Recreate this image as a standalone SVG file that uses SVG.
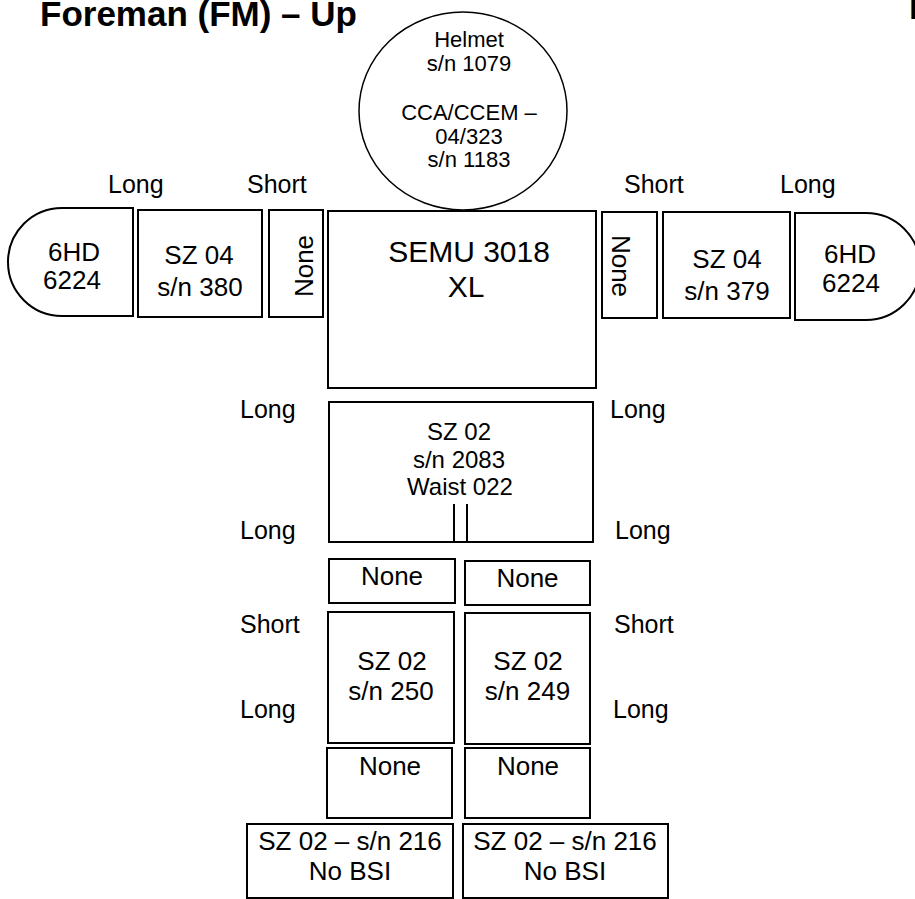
<svg xmlns="http://www.w3.org/2000/svg" width="915" height="899" viewBox="0 0 915 899">
<style>
.b{fill:#fff;stroke:#000;stroke-width:2}
.l{fill:none;stroke:#000;stroke-width:2}
text{font-family:"Liberation Sans",Arial,sans-serif;fill:#000}
.t{font-size:26px;text-anchor:middle}
.h{font-size:22px;text-anchor:middle}
.s{font-size:30px;text-anchor:middle}
.w{font-size:24px;text-anchor:middle}
.lb{font-size:25px}
.ti{font-size:35px;font-weight:bold}
</style>
<rect width="915" height="899" fill="#fff"/>
<g id="titles">
<text class="ti" x="40" y="26">Foreman (FM) – Up</text>
<text class="ti" x="909" y="19">F</text>
</g>
<g id="helmet">
<ellipse class="b" cx="463" cy="111" rx="104" ry="99" style="stroke-width:1.5"/>
<text class="h" x="469" y="47">Helmet</text>
<text class="h" x="469" y="71">s/n 1079</text>
<text class="h" x="469" y="120">CCA/CCEM –</text>
<text class="h" x="469" y="144">04/323</text>
<text class="h" x="469" y="167">s/n 1183</text>
</g>
<g id="torso">
<rect class="b" x="328" y="211" width="268" height="177"/>
<text class="s" x="469" y="262">SEMU 3018</text>
<text class="s" x="466" y="297">XL</text>
</g>
<g id="left-glove">
<path class="b" d="M133,208 H62 A54,54 0 0 0 62,316 H133 Z"/>
<text class="t" x="74" y="261">6HD</text>
<text class="t" x="72" y="289">6224</text>
</g>
<g id="left-arm">
<rect class="b" x="138" y="210" width="124" height="107"/>
<text class="t" x="199" y="264">SZ 04</text>
<text class="t" x="200" y="296">s/n 380</text>
</g>
<g id="left-spacer">
<rect class="b" x="269" y="210" width="54" height="107"/>
<text class="t" transform="translate(313,266) rotate(-90)">None</text>
</g>
<g id="right-spacer">
<rect class="b" x="602" y="212" width="55" height="106"/>
<text class="t" transform="translate(612,266) rotate(90)">None</text>
</g>
<g id="right-arm">
<rect class="b" x="663" y="212" width="127" height="106"/>
<text class="t" x="727" y="268">SZ 04</text>
<text class="t" x="727" y="300">s/n 379</text>
</g>
<g id="right-glove">
<path class="b" d="M795,213 H866 A54,53.5 0 0 1 866,320 H795 Z"/>
<text class="t" x="850" y="263">6HD</text>
<text class="t" x="851" y="292">6224</text>
</g>
<g id="waist">
<rect class="b" x="329" y="402" width="264" height="140"/>
<text class="w" x="459" y="440">SZ 02</text>
<text class="w" x="459" y="468">s/n 2083</text>
<text class="w" x="460" y="495">Waist 022</text>
<line class="l" x1="454" y1="504" x2="454" y2="542"/>
<line class="l" x1="467" y1="504" x2="467" y2="542"/>
</g>
<g id="left-thigh-spacer">
<rect class="b" x="329" y="559" width="126" height="44"/>
<text class="t" x="392" y="585">None</text>
</g>
<g id="right-thigh-spacer">
<rect class="b" x="465" y="561" width="125" height="44"/>
<text class="t" x="527.5" y="587">None</text>
</g>
<g id="left-leg">
<rect class="b" x="328" y="612" width="126" height="131"/>
<text class="t" x="392" y="670">SZ 02</text>
<text class="t" x="391" y="700">s/n 250</text>
</g>
<g id="right-leg">
<rect class="b" x="465" y="613" width="125" height="131"/>
<text class="t" x="528" y="670">SZ 02</text>
<text class="t" x="527.5" y="700">s/n 249</text>
</g>
<g id="left-lower-spacer">
<rect class="b" x="327" y="748" width="125" height="70"/>
<text class="t" x="390" y="775">None</text>
</g>
<g id="right-lower-spacer">
<rect class="b" x="465" y="748" width="125" height="70"/>
<text class="t" x="528" y="775">None</text>
</g>
<g id="left-boot">
<rect class="b" x="247" y="824" width="206" height="74"/>
<text class="t" x="350" y="850">SZ 02 – s/n 216</text>
<text class="t" x="350" y="880">No BSI</text>
</g>
<g id="right-boot">
<rect class="b" x="463" y="824" width="205" height="74"/>
<text class="t" x="565" y="850">SZ 02 – s/n 216</text>
<text class="t" x="565" y="880">No BSI</text>
</g>
<g id="labels" class="lb">
<text x="108" y="193">Long</text>
<text x="247" y="193">Short</text>
<text x="624" y="193">Short</text>
<text x="780" y="193">Long</text>
<text x="240" y="418">Long</text>
<text x="610" y="418">Long</text>
<text x="240" y="539">Long</text>
<text x="615" y="539">Long</text>
<text x="240" y="633">Short</text>
<text x="614" y="633">Short</text>
<text x="240" y="718">Long</text>
<text x="613" y="718">Long</text>
</g>
<g id="connectors"></g>
</svg>
